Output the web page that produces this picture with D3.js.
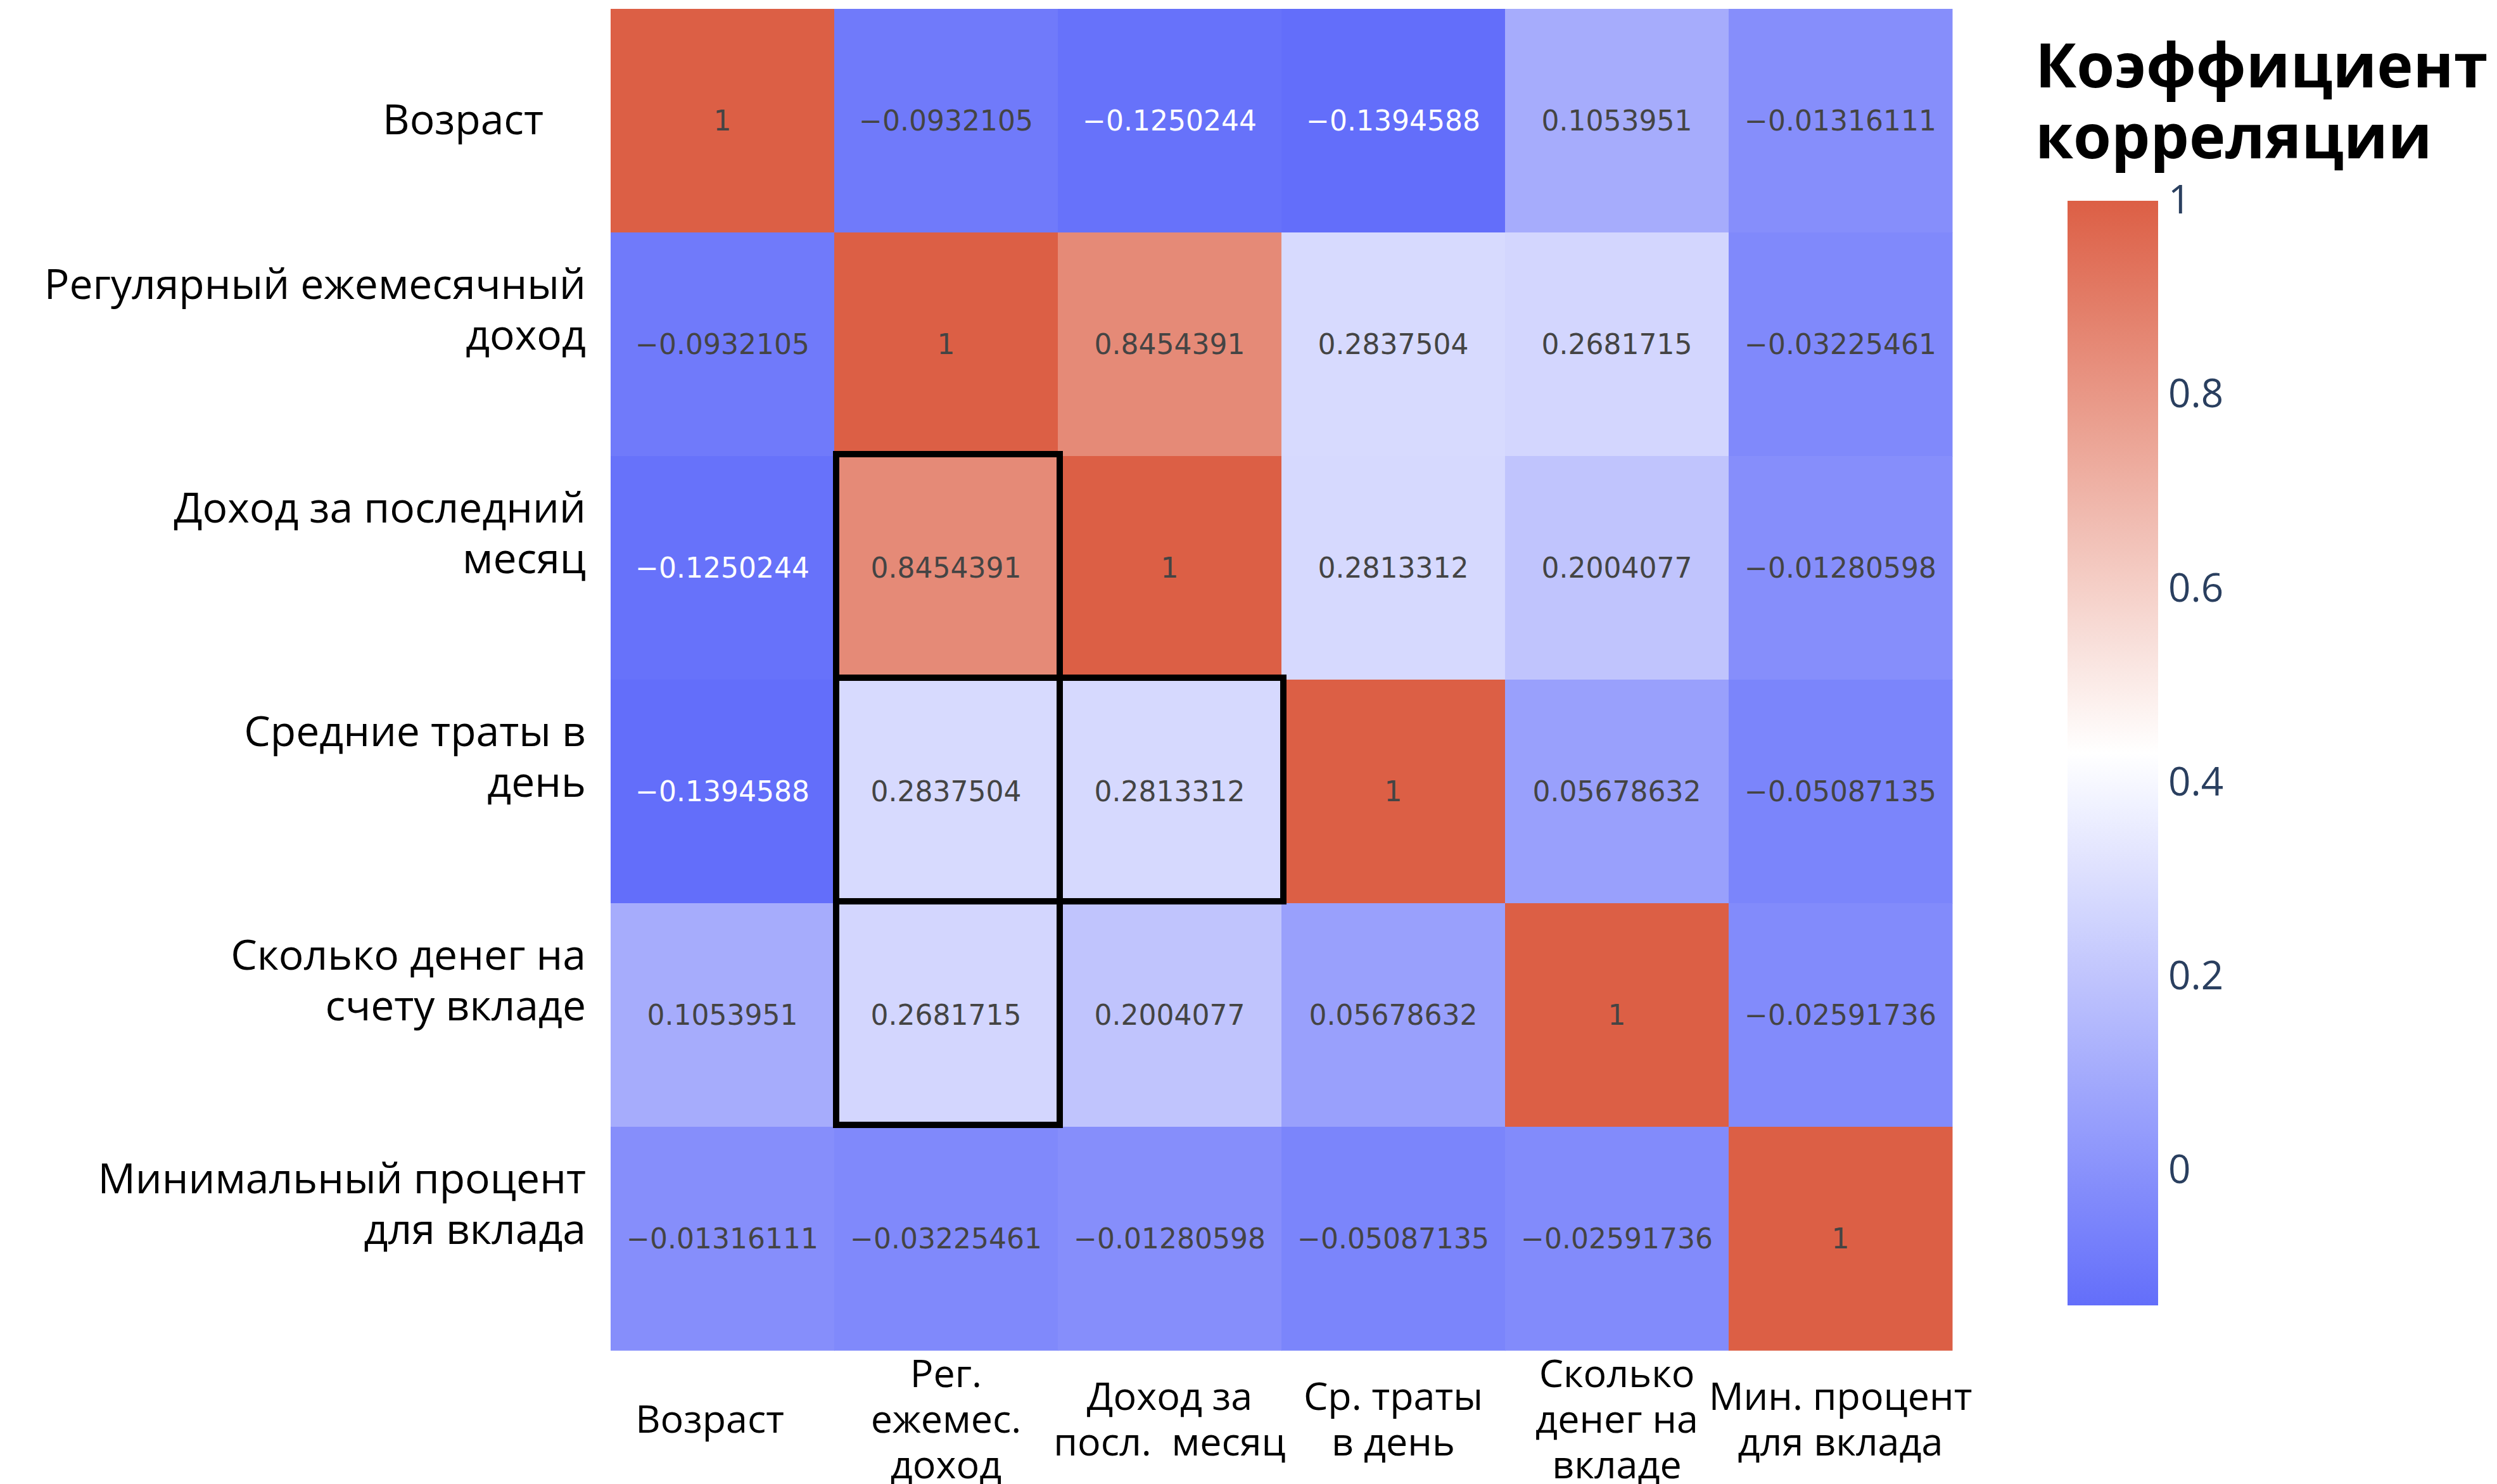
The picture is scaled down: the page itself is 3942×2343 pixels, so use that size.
<!DOCTYPE html>
<html>
<head>
<meta charset="utf-8">
<script src="https://cdn.jsdelivr.net/npm/d3@7"></script>
<style>
  html, body { margin: 0; padding: 0; background: #ffffff; }
  svg { display: block; }
</style>
</head>
<body>
<svg id="chart" width="3942" height="2343"></svg>
<script>
// ---- data ----
const rowLabels = [
  ["Возраст"],
  ["Регулярный ежемесячный", "доход"],
  ["Доход за последний", "месяц"],
  ["Средние траты в", "день"],
  ["Сколько денег на", "счету вкладе"],
  ["Минимальный процент", "для вклада"]
];
const colLabels = [
  ["Возраст"],
  ["Рег.", "ежемес.", "доход"],
  ["Доход за", "посл.  месяц"],
  ["Ср. траты", "в день"],
  ["Сколько", "денег на", "вкладе"],
  ["Мин. процент", "для вклада"]
];
const row0 = [1, -0.0932105, -0.1250244, -0.1394588, 0.1053951, -0.01316111];
const row1 = [-0.0932105, 1, 0.8454391, 0.2837504, 0.2681715, -0.03225461];
const row2 = [-0.1250244, 0.8454391, 1, 0.2813312, 0.2004077, -0.01280598];
const row3 = [-0.1394588, 0.2837504, 0.2813312, 1, 0.05678632, -0.05087135];
const row4 = [0.1053951, 0.2681715, 0.2004077, 0.05678632, 1, -0.02591736];
const row5 = [-0.01316111, -0.03225461, -0.01280598, -0.05087135, -0.02591736, 1];
const matrix = [row0, row1, row2, row3, row4, row5];
const highlighted = [[2, 1], [3, 1], [3, 2], [4, 1]]; // [row, col]
const colorbarTicks = [0, 0.2, 0.4, 0.6, 0.8, 1];
const titleLines = ["Коэффициент", "корреляции"];

(function () {
// ---- layout ----
const svg = d3.select("#chart");
const L = 964, R = 3082, T = 14, B = 2132;
const idx = d3.range(matrix.length);
const x = d3.scaleBand().domain(idx).range([L, R]).paddingInner(0);
const y = d3.scaleBand().domain(idx).range([T, B]).paddingInner(0);

const flat = matrix.flat();
const vmin = d3.min(flat), vmax = d3.max(flat);
const vmid = (vmin + vmax) / 2;
const color = d3.scaleLinear()
  .domain([vmin, vmid, vmax])
  .range(["#636efa", "#ffffff", "#dc5f45"])
  .interpolate(d3.interpolateRgb);

const cells = [];
matrix.forEach((r, i) => r.forEach((v, j) => cells.push({ i, j, v })));

const fmt = d3.format(".7~g");

// cells
svg.append("g").selectAll("rect")
  .data(cells).join("rect")
  .attr("x", d => x(d.j))
  .attr("y", d => y(d.i))
  .attr("width", x.bandwidth() + 0.5)
  .attr("height", y.bandwidth() + 0.5)
  .attr("fill", d => color(d.v));

// cell texts
svg.append("g").selectAll("text")
  .data(cells).join("text")
  .attr("x", d => x(d.j) + x.bandwidth() / 2)
  .attr("y", d => y(d.i) + y.bandwidth() / 2)
  .attr("text-anchor", "middle")
  .attr("dominant-baseline", "central")
  .attr("font-family", "'DejaVu Sans', Verdana, sans-serif")
  .attr("font-size", 44)
  .attr("fill", d => d3.lab(color(d.v)).l < 54.5 ? "#ffffff" : "#444444")
  .text(d => fmt(d.v));

// highlight boxes
svg.append("g").selectAll("rect")
  .data(highlighted).join("rect")
  .attr("x", d => x(d[1]) + 3)
  .attr("y", d => y(d[0]) - 3)
  .attr("width", x.bandwidth())
  .attr("height", y.bandwidth())
  .attr("fill", "none")
  .attr("stroke", "#000000")
  .attr("stroke-width", 10);

// row labels (left)
const labelFont = "'Open Sans', 'Noto Sans', sans-serif";
const rowG = svg.append("g");
rowLabels.forEach((lines, i) => {
  const c = y(i) + y.bandwidth() / 2;
  const lh = 80;
  const startY = lines.length === 1 ? c - 5 : c - 98;
  const xr = lines.length === 1 ? 858 : 925;
  lines.forEach((ln, k) => {
    rowG.append("text")
      .attr("text-anchor", "end")
      .attr("font-family", labelFont)
      .attr("font-size", 66)
      .attr("fill", "#000000")
      .attr("dominant-baseline", "central")
      .attr("x", xr).attr("y", startY + k * lh).text(ln);
  });
});

// column labels (bottom)
const colG = svg.append("g");
colLabels.forEach((lines, j) => {
  const c = x(j) + x.bandwidth() / 2 - (lines.length === 1 ? 20 : 0);
  const lh = 72;
  const centerY = 2238;
  const startY = centerY - (lines.length - 1) * lh / 2;
  const t = colG.append("text")
    .attr("text-anchor", "middle")
    .attr("font-family", labelFont)
    .attr("font-size", 61)
    .attr("fill", "#000000")
    .attr("dominant-baseline", "central")
    .style("white-space", "pre");
  lines.forEach((ln, k) => {
    t.append("tspan").attr("x", c).attr("y", startY + k * lh).text(ln);
  });
});

// colorbar
const cbLeft = 3264, cbWidth = 143, cbTop = 317, cbBottom = 2061;
const cbScale = d3.scaleLinear().domain([vmin, vmax]).range([cbBottom, cbTop]);
const defs = svg.append("defs");
const grad = defs.append("linearGradient")
  .attr("id", "cbgrad").attr("x1", 0).attr("y1", 1).attr("x2", 0).attr("y2", 0);
d3.range(0, 1.0001, 0.05).forEach(t => {
  const v = vmin + t * (vmax - vmin);
  grad.append("stop").attr("offset", t).attr("stop-color", color(v));
});
svg.append("rect")
  .attr("x", cbLeft).attr("y", cbTop)
  .attr("width", cbWidth).attr("height", cbBottom - cbTop)
  .attr("fill", "url(#cbgrad)");

const cbAxis = d3.axisRight(cbScale)
  .tickValues(colorbarTicks)
  .tickSize(0)
  .tickPadding(16)
  .tickFormat(d3.format("~g"));
const cbG = svg.append("g")
  .attr("transform", `translate(${cbLeft + cbWidth},0)`)
  .call(cbAxis);
cbG.select(".domain").remove();
cbG.selectAll("text")
  .attr("font-family", labelFont)
  .attr("font-size", 62)
  .attr("fill", "#2a3f5f");

// title
const title = svg.append("text")
  .attr("font-family", labelFont)
  .attr("font-weight", "bold")
  .attr("font-size", 97)
  .attr("fill", "#000000");
titleLines.forEach((ln, k) => {
  title.append("tspan").attr("x", 3213).attr("y", 138 + k * 112).text(ln);
});
})();
</script>
</body>
</html>
